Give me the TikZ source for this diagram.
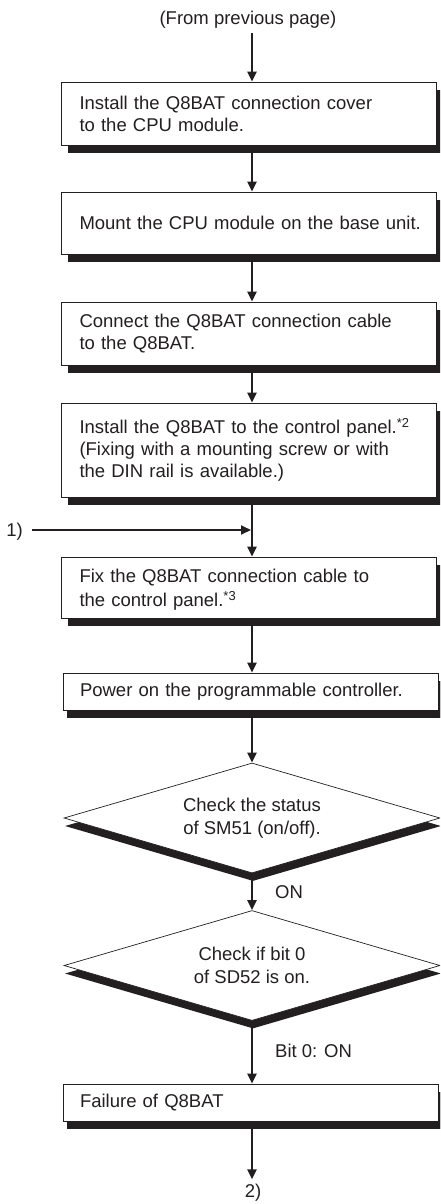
\documentclass[tikz,border=0pt]{standalone}
\usepackage{fontspec}
\setmainfont{Liberation Sans}
\usetikzlibrary{arrows.meta,shapes.geometric,shadows}
\definecolor{ink}{HTML}{231F20}
\begin{document}
\begin{tikzpicture}[x=1pt,y=-1pt,
  font=\fontsize{18.5}{22}\selectfont,
  box/.style={draw=ink, line width=0.7pt, fill=white, text=ink, align=left,
    text width=338pt, inner xsep=18.5pt, inner ysep=0pt,
    drop shadow={shadow xshift=7pt, shadow yshift=-8pt, fill=ink, opacity=1}},
  wbox/.style={box, text width=341pt, inner xsep=17pt,
    drop shadow={shadow xshift=4pt, shadow yshift=-8pt, fill=ink, opacity=1}},
  dec/.style={shape=diamond, draw=ink, line width=0.7pt, fill=white, text=ink,
    align=center, aspect=3.4, inner sep=0pt, minimum width=376pt, minimum height=110pt,
    drop shadow={shadow xshift=1pt, shadow yshift=-8pt, fill=ink, opacity=1}},
  lbl/.style={text=ink, inner sep=0pt},
  arr/.style={draw=ink, line width=2pt, -{Triangle[width=9pt,length=10pt]}}]
\clip (0,0) rectangle (440,1204);
\coordinate (col) at (252,0);

\node[lbl, anchor=base] (from) at (248,25) {(From previous page)};

\node[box, minimum height=63pt] (b1) at (248.5,113.5)
  {\mbox{Install the Q8BAT connection cover}\\to the CPU module.};
\node[box, minimum height=62pt] (b2) at (248.5,223)
  {\mbox{Mount the CPU module on the base unit.}};
\node[box, minimum height=63pt] (b3) at (248.5,333.5)
  {\mbox{Connect the Q8BAT connection cable}\\to the Q8BAT.};
\node[box, minimum height=94pt] (b4) at (248.5,450)
  {\mbox{Install the Q8BAT to the control panel.\textsuperscript{*2}}\\\mbox{(Fixing with a mounting screw or with}\\the DIN rail is available.)};
\node[box, minimum height=61pt] (b5) at (248.5,587.5)
  {\rule{0pt}{18pt}\mbox{Fix the Q8BAT connection cable to}\\[2pt]the control panel.\textsuperscript{*3}};
\node[wbox, minimum height=37pt] (b6) at (250.5,691.5)
  {\mbox{Power on the programmable controller.}};
\node[dec] (d1) at (252,818) {Check the status\\[1pt]of SM51 (on/off).};
\node[dec] (d2) at (252,965.5) {Check if bit 0\\[1pt]of SD52 is on.};
\node[wbox, minimum height=37pt] (b7) at (250.5,1102.5) {Failure of Q8BAT};

\node[lbl, anchor=base east] (one) at (23,536) {1)};
\node[lbl, anchor=base] (two) at (253,1197) {2)};
\node[lbl, anchor=base west] (on) at (275,898) {ON};
\node[lbl, anchor=base west] (bit) at (275,1057) {Bit 0: ON};

\draw[arr, shorten <=4pt] (from.south -| col) -- (b1.north -| col);
\draw[arr] (b1.south -| col) -- (b2.north -| col);
\draw[arr] (b2.south -| col) -- (b3.north -| col);
\draw[arr] (b3.south -| col) -- (b4.north -| col);
\draw[arr] (b4.south -| col) -- (b5.north -| col);
\draw[arr, shorten <=9pt, shorten >=1pt] (one.east |- 0,530) -- (col |- 0,530);
\draw[arr] (b5.south -| col) -- (b6.north -| col);
\draw[arr] (b6.south -| col) -- (d1.north);
\draw[arr] (d1.south) -- (d2.north);
\draw[arr] (d2.south) -- (b7.north -| col);
\draw[arr, shorten >=4pt] (b7.south -| col) -- (two.north -| col);
\end{tikzpicture}
\end{document}
